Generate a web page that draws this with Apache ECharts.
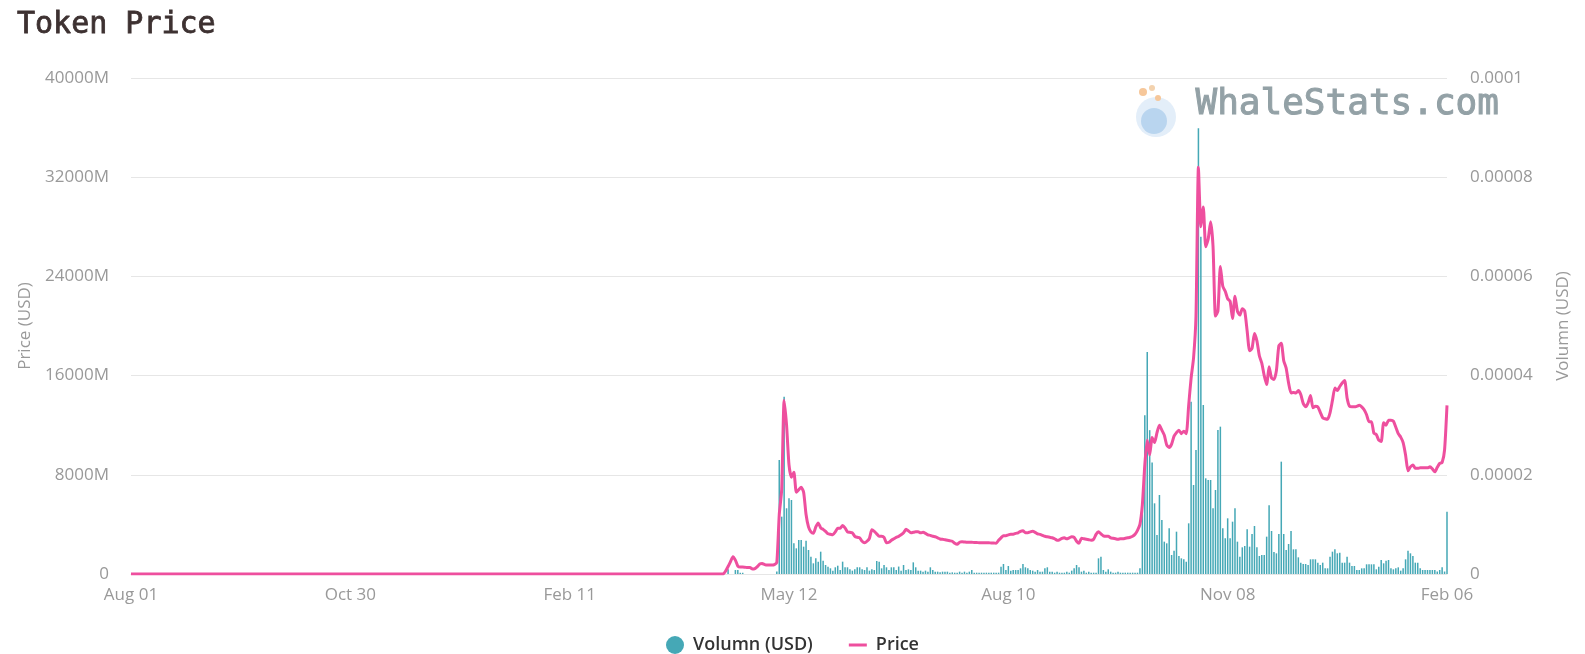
<!DOCTYPE html>
<html>
<head>
<meta charset="utf-8">
<script src="https://cdn.jsdelivr.net/npm/echarts@6/dist/echarts.min.js"></script>
<style>
html,body{margin:0;padding:0;background:#fff;}
#chart{width:1585px;height:654px;}
</style>
</head>
<body>
<div id="chart"></div>
<script>
// Category ranges (daily, with one gap in the source data)
const dateSegments = [['2020-08-01', '2020-10-30'], ['2020-11-14', '2022-02-06']];
const monthNames = ['Jan','Feb','Mar','Apr','May','Jun','Jul','Aug','Sep','Oct','Nov','Dec'];

// Volume in millions of USD, one value per day
const volumeMillions = [
0,0,0,0,0,0,0,0,0,0,0,0,0,0,0,0,0,0,0,0,
0,0,0,0,0,0,0,0,0,0,0,0,0,0,0,0,0,0,0,0,
0,0,0,0,0,0,0,0,0,0,0,0,0,0,0,0,0,0,0,0,
0,0,0,0,0,0,0,0,0,0,0,0,0,0,0,0,0,0,0,0,
0,0,0,0,0,0,0,0,0,0,0,0,0,0,0,0,0,0,0,0,
0,0,0,0,0,0,0,0,0,0,0,0,0,0,0,0,0,0,0,0,
0,0,0,0,0,0,0,0,0,0,0,0,0,0,0,0,0,0,0,0,
0,0,0,0,0,0,0,0,0,0,0,0,0,0,0,0,0,0,0,0,
0,0,0,0,0,0,0,0,0,0,0,0,0,0,0,0,0,0,0,0,
0,0,0,0,0,0,0,0,0,0,0,0,0,0,0,0,0,0,0,0,
0,0,0,0,0,0,0,0,0,0,0,0,0,0,0,0,0,0,0,0,
0,0,0,0,0,0,0,0,0,0,0,0,0,0,0,0,0,0,0,0,
0,0,0,0,0,
380,0,0,320,320,100,100,0,0,0,0,0,0,0,0,0,0,0,0,0,200,
9194,4624,14300,5300,6100,5970,2473,2070,2742,2742,2204,2688,1935,1398,860,1263,995,1800,1075,726,591,
460,270,540,670,320,995,540,540,376,270,
376,540,540,376,320,540,270,376,320,1050,
995,457,726,540,320,540,540,320,600,270,
726,320,376,320,940,540,270,270,188,270,
188,540,320,188,188,134,188,188,188,107,
134,107,107,188,107,188,107,188,320,107,
107,107,107,107,107,107,107,107,107,107,
590,806,320,645,270,320,320,320,457,806,
540,457,320,270,188,320,188,188,457,540,
188,188,107,188,107,107,107,188,107,270,
457,726,540,188,270,107,188,107,107,107,
1263,1398,320,188,376,188,107,107,188,107,
107,107,107,107,107,107,107,
457,5833,12800,17900,11600,9000,5700,3145,6371,4355,
2608,2473,3683,1532,1881,3414,1452,1263,1183,995,
4086,13898,7178,10000,35944,27200,13630,7716,7580,7580,
5297,6774,11613,11882,3683,
2876,4490,2876,4220,5297,2608,1398,2150,2258,3602,
2204,3226,3871,2150,1452,1532,1532,3011,5538,3468,
1774,1667,3226,9059,3226,1935,2420,3468,1989,1989,
1344,914,806,806,726,1183,1183,1183,914,726,
914,
457,457,1398,1801,1989,1667,1720,914,914,1398,
914,645,645,323,323,457,457,780,780,780,
780,376,591,1129,860,1075,1129,457,376,457,
538,269,457,1183,1882,1667,1452,914,914,457,
323,323,323,323,323,323,200,323,538,200,
5027
];

// Price in micro-USD (1e-6 USD), one value per day
const priceMicro = [
0,0,0,0,0,0,0,0,0,0,0,0,0,0,0,0,0,0,0,0,
0,0,0,0,0,0,0,0,0,0,0,0,0,0,0,0,0,0,0,0,
0,0,0,0,0,0,0,0,0,0,0,0,0,0,0,0,0,0,0,0,
0,0,0,0,0,0,0,0,0,0,0,0,0,0,0,0,0,0,0,0,
0,0,0,0,0,0,0,0,0,0,0,0,0,0,0,0,0,0,0,0,
0,0,0,0,0,0,0,0,0,0,0,0,0,0,0,0,0,0,0,0,
0,0,0,0,0,0,0,0,0,0,0,0,0,0,0,0,0,0,0,0,
0,0,0,0,0,0,0,0,0,0,0,0,0,0,0,0,0,0,0,0,
0,0,0,0,0,0,0,0,0,0,0,0,0,0,0,0,0,0,0,0,
0,0,0,0,0,0,0,0,0,0,0,0,0,0,0,0,0,0,0,0,
0,0,0,0,0,0,0,0,0,0,0,0,0,0,0,0,0,0,0,0,
0,0,0,0,0,0,0,0,0,0,0,0,0,0,0,0,0,0,0,0,
0,0,0,0,
0.6,1.5,2.5,3.5,2.8,1.6,1.4,1.4,1.35,1.3,
1.3,1.0,1.1,1.5,2.0,2.1,1.9,1.8,1.8,1.8,
1.9,2.3,12,17,35,30,22,19.5,20.5,16.5,
17,17.5,16.5,12,9.5,8.5,8.2,9.5,10.3,9.3,
9.0,8.6,8.1,8.0,7.9,8.5,9.2,9.2,9.8,9.3,
8.5,8.4,8.3,7.6,7.4,7.3,6.6,6.3,6.6,7.2,
8.9,8.6,8.1,7.6,7.6,7.4,6.3,6.4,6.8,7.1,
7.4,7.6,7.9,8.3,9.0,8.7,8.3,8.4,8.5,8.5,
8.3,8.4,8.2,7.9,7.8,7.6,7.5,7.3,7.05,7.0,
6.9,6.8,6.7,6.6,6.2,6.0,6.4,6.5,6.45,6.4,
6.4,6.4,6.35,6.35,6.3,6.3,6.3,6.3,6.3,6.25,
6.25,6.2,6.8,7.3,7.7,7.7,7.9,8.0,8.0,8.2,
8.3,8.6,8.7,8.3,8.3,8.5,8.6,8.4,8.1,8.0,
7.8,7.6,7.5,7.4,7.3,7.1,6.8,6.9,7.2,7.3,
7.1,7.3,7.5,7.4,6.6,6.2,7.2,7.1,7.0,6.9,
6.8,7.0,8.0,8.5,8.1,7.7,7.6,7.6,7.3,7.2,
7.1,7.0,7.1,7.1,7.2,7.3,7.4,7.6,8.0,8.8,
10,14,22,27,24,27.5,26.5,28.5,30,29,
28,26,25.5,26.2,27.8,28.5,29,28.3,28.8,28.3,
34,39.5,43.5,52,82,70,74,66,67.5,71,
66,52,53,62,58,57,55.5,55,51.5,56,
53,52.2,53.5,53,49,45,45.5,48.5,47,44,
42.5,40,38.2,41.8,39.5,39.2,41,46,46.5,43,
41.5,38.5,36.5,36.6,36.5,37,36.2,34.4,33.7,34.5,
36,33.5,33.8,33.7,32.6,31.5,31.3,31.2,32.5,35,
37.5,37,37.8,38.5,39,35.5,33.8,33.7,33.7,33.8,
34,33.7,33.1,32.1,30.7,30.7,28.4,28.1,27,26.7,
30.5,30,31,31,30.8,29.6,28.3,27.6,26.5,24,
20.8,21.6,22,21.3,21.3,21.4,21.4,21.4,21.4,21.6,
21.2,20.6,21.5,22.3,22.5,25,34
];

const leftTicksM = [0, 8000, 16000, 24000, 32000, 40000];
const rightTicks = ['0', '0.00002', '0.00004', '0.00006', '0.00008', '0.0001'];

function buildDates() {
  const out = [];
  dateSegments.forEach(function (seg) {
    let d = new Date(seg[0] + 'T00:00:00Z');
    const end = new Date(seg[1] + 'T00:00:00Z');
    while (d <= end) {
      const day = d.getUTCDate();
      out.push(monthNames[d.getUTCMonth()] + ' ' + (day < 10 ? '0' + day : '' + day));
      d = new Date(d.getTime() + 86400000);
    }
  });
  return out;
}
const categories = buildDates();
const volumeUSD = volumeMillions.map(function (v) { return v * 1e6; });
const priceUSD = priceMicro.map(function (v) { return v * 1e-6; });

const chart = echarts.init(document.getElementById('chart'), null, {renderer: 'canvas'});
const labelColor = '#999';
const gridColor = '#e6e6e6';
const barColor = '#45a8b6';
const lineColor = '#ee4f9e';
const titleColor = '#3d3131';
const markColor = '#93a1a6';
chart.setOption({
  animation: false,
  backgroundColor: '#fff',
  title: {
    text: 'Token Price',
    left: 12, top: 5,
    textStyle: {fontFamily: '"DejaVu Sans Mono", monospace', fontSize: 30, fontWeight: 'normal', color: titleColor,
                textBorderColor: titleColor, textBorderWidth: 0.8}
  },
  legend: {
    top: 631, left: 'center',
    itemWidth: 18, itemHeight: 18, itemGap: 36,
    data: [
      {name: 'Volumn (USD)', icon: 'circle', itemStyle: {color: barColor}},
      {name: 'Price', icon: 'path://M0,0 L18,0 L18,3 L0,3 Z', itemStyle: {color: lineColor}}
    ],
    textStyle: {fontFamily: '"Open Sans", sans-serif', fontSize: 18, fontWeight: 600, color: '#333', padding: [0, 0, 0, 4]}
  },
  grid: {left: 131, right: 138, top: 78, bottom: 80},
  xAxis: {
    type: 'category',
    data: categories,
    boundaryGap: false,
    axisTick: {show: false},
    axisLine: {lineStyle: {color: gridColor}},
    axisLabel: {interval: 89, color: labelColor, fontFamily: '"Open Sans", sans-serif', fontSize: 17, margin: 13}
  },
  yAxis: [
    {
      type: 'value', min: 0, max: leftTicksM[leftTicksM.length - 1] * 1e6, interval: leftTicksM[1] * 1e6,
      name: 'Price (USD)', nameLocation: 'middle', nameGap: 97,
      nameTextStyle: {color: labelColor, fontFamily: '"Open Sans", sans-serif', fontSize: 17},
      axisLine: {show: false}, axisTick: {show: false},
      splitLine: {lineStyle: {color: gridColor, width: 1}},
      axisLabel: {
        color: labelColor, fontFamily: '"Open Sans", sans-serif', fontSize: 17, margin: 22,
        formatter: function (v) { const i = leftTicksM.indexOf(Math.round(v / 1e6)); return i === 0 ? '0' : leftTicksM[i] + 'M'; }
      }
    },
    {
      type: 'value', min: 0, max: 0.0001, interval: 0.00002,
      name: 'Volumn (USD)', nameLocation: 'middle', nameGap: 108,
      nameTextStyle: {color: labelColor, fontFamily: '"Open Sans", sans-serif', fontSize: 17},
      axisLine: {show: false}, axisTick: {show: false},
      splitLine: {show: false},
      axisLabel: {
        color: labelColor, fontFamily: '"Open Sans", sans-serif', fontSize: 17, margin: 23,
        formatter: function (v) { return rightTicks[Math.round(v / 0.00002)]; }
      }
    }
  ],
  graphic: [
    {type: 'circle', shape: {cx: 1156, cy: 117, r: 20}, style: {fill: '#e3eef9'}, z: 1},
    {type: 'circle', shape: {cx: 1154, cy: 121, r: 13}, style: {fill: '#b9d5ef'}, z: 1},
    {type: 'circle', shape: {cx: 1143, cy: 92, r: 4}, style: {fill: '#f6c79a'}, z: 1},
    {type: 'circle', shape: {cx: 1152, cy: 88, r: 3}, style: {fill: '#f3d2ae'}, z: 1},
    {type: 'circle', shape: {cx: 1158, cy: 98, r: 3}, style: {fill: '#f6c79a'}, z: 1},
    {type: 'text', left: 1195, top: 86, z: 1,
     style: {text: 'WhaleStats.com', font: '36px "DejaVu Sans Mono", monospace', fill: markColor,
             stroke: markColor, lineWidth: 1}}
  ],
  series: [
    {
      name: 'Volumn (USD)', type: 'bar', yAxisIndex: 0, data: volumeUSD,
      barWidth: '62%', itemStyle: {color: barColor}
    },
    {
      name: 'Price', type: 'line', yAxisIndex: 1, data: priceUSD,
      symbol: 'none', smooth: 0.2,
      lineStyle: {width: 3, color: lineColor}, itemStyle: {color: lineColor}
    }
  ]
});
</script>
</body>
</html>
